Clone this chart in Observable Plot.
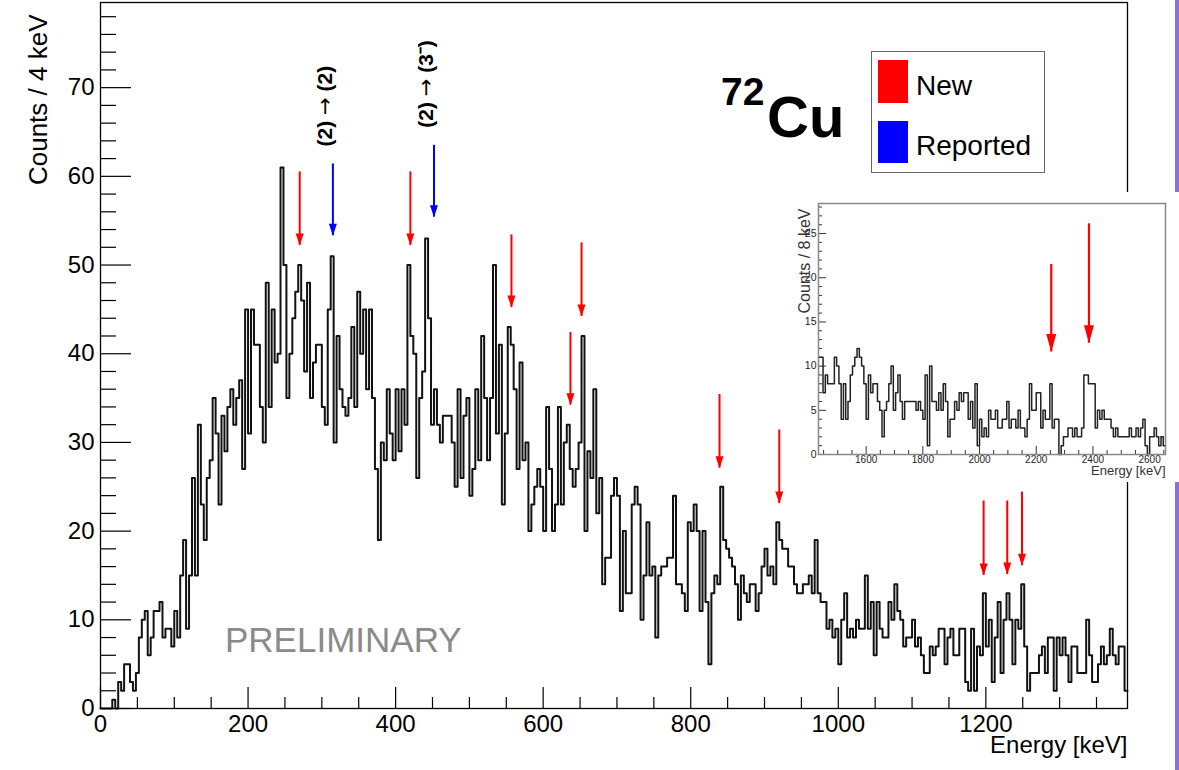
<!DOCTYPE html>
<html><head><meta charset="utf-8">
<script src="https://cdn.jsdelivr.net/npm/d3@7"></script>
<script src="https://cdn.jsdelivr.net/npm/@observablehq/plot@0.6"></script>
<style>
html,body{margin:0;padding:0;background:#fff;}
#wrap{position:relative;width:1179px;height:770px;overflow:hidden;font-family:"Liberation Sans",Arial,Helvetica,sans-serif;}
#main{position:absolute;left:0;top:0;}
#ov{position:absolute;left:0;top:0;}
#edge{position:absolute;left:1175px;top:0;width:4px;height:770px;background:#8a6fd8;}
#inset{position:absolute;left:785px;top:192px;width:394px;height:290px;background:#fff;}
</style></head><body>
<div id="wrap">
  <div id="main"></div>
  <svg id="ov" width="1179" height="770" font-family='"Liberation Sans", Arial, Helvetica, sans-serif'>
    <text x="721" y="105" font-size="39" font-weight="bold">72</text>
    <text x="767" y="137" font-size="58" font-weight="bold">Cu</text>
    <rect x="871.5" y="51.5" width="173" height="121" fill="#fff" stroke="#666" stroke-width="1"/>
    <rect x="878" y="60" width="30" height="43" fill="#ff0000"/>
    <rect x="878" y="121" width="30" height="42" fill="#0000ff"/>
    <text x="916" y="95" font-size="28">New</text>
    <text x="916" y="155" font-size="28">Reported</text>
    <text x="225" y="652" font-size="35" fill="#8a8a8a">PRELIMINARY</text>
  </svg>
  <div id="edge"></div>
  <div id="inset"></div>
</div>
<script>
// ---------------- data ----------------
const binWidth = 4; // keV per bin, main spectrum starts at 0 keV
const counts = [
  0,0,0,0,1,0,3,2,5,5,
  3,2,4,8,10,11,6,8,11,11,
  12,8,9,9,7,11,8,15,19,9,
  15,26,15,32,23,19,26,28,35,31,
  23,33,29,34,36,32,35,37,27,45,
  31,45,41,41,34,30,48,34,45,39,
  40,61,50,35,40,44,47,50,46,38,
  48,35,39,41,41,34,32,45,51,30,
  42,36,34,33,35,43,34,47,40,45,
  36,45,35,27,19,30,28,36,31,28,
  36,29,36,32,50,42,40,26,35,38,
  53,44,32,36,32,30,33,33,33,30,
  25,36,26,33,35,24,27,36,28,42,
  35,28,35,50,31,41,23,31,43,41,
  36,27,39,28,30,20,23,25,27,25,
  20,34,27,20,23,34,23,30,32,27,
  25,27,30,42,20,29,26,36,22,26,
  14,17,17,24,26,24,11,20,13,13,
  23,25,23,10,15,21,15,16,8,15,
  16,16,17,17,24,14,14,13,11,21,
  20,23,20,11,20,12,5,13,15,14,
  25,19,18,17,16,14,10,15,13,12,
  14,14,11,13,16,18,15,16,14,21,
  19,18,18,16,16,14,13,13,14,14,
  15,13,19,13,12,12,9,10,8,9,
  5,10,13,8,9,8,10,9,9,15,
  9,12,6,12,9,8,8,12,10,14,
  11,10,7,8,8,10,7,8,6,4,
  4,7,6,7,9,9,5,8,9,6,
  6,9,9,3,2,9,2,7,6,13,
  7,10,3,8,12,4,10,13,10,5,
  10,9,14,7,2,4,4,4,6,7,
  4,8,8,2,8,6,8,6,3,7,
  7,4,4,4,10,6,3,3,5,7,
  5,6,9,6,5,7,7,2
];
const insetStart = 1432;   // keV
const insetBinWidth = 8;   // keV per bin
const insetCounts = [
  11,11,7,9,8,8,8,11,10,8,
  4,8,4,6,9,10,11,12,11,10,
  8,4,9,7,8,8,6,5,2,5,
  6,8,10,5,7,9,6,4,6,6,
  6,6,6,5,6,5,4,9,1,10,
  6,6,5,7,5,8,6,2,4,4,
  6,5,7,6,7,7,4,6,3,8,
  1,4,2,3,2,5,4,4,5,3,
  3,4,4,6,3,4,4,3,5,3,
  3,2,4,8,5,5,7,7,3,5,
  4,4,8,3,4,4,0,1,2,2,
  3,3,2,3,2,2,3,9,9,8,
  8,8,3,5,4,5,4,4,4,3,
  2,3,2,2,2,2,2,3,2,2,
  3,2,3,4,1,0,2,2,3,2,
  1,2,1
];
// arrows: energy (keV), tail (counts), tip (counts)
const newEnergies   = [270, 420, 557, 637, 652, 839, 920, 1197, 1229, 1249];
const newTails      = [60.5, 60.5, 53.4, 42.4, 52.5, 35.4, 31.4, 23.4, 23.4, 24.4];
const newTips       = [52.2, 52.2, 45.2, 34.2, 44.2, 27.1, 23.1, 15.0, 15.1, 16.1];
const reportedEnergies = [315, 452];
const reportedTails    = [61.4, 63.5];
const reportedTips     = [53.3, 55.4];
const reportedLabels   = ["(2) \u2192 (2)", "(2) \u2192 (3\u207B)"];
const insetArrowEnergies = [2253, 2386];
const insetArrowTails    = [21.5, 26.1];
const insetArrowTips     = [11.6, 12.6];
// axes
const xMajor = [0, 200, 400, 600, 800, 1000, 1200];
const yMajor = [0, 10, 20, 30, 40, 50, 60, 70];
const insetXMajor = [1600, 1800, 2000, 2200, 2400, 2600];
const insetYMajor = [0, 5, 10, 15, 20, 25];
const xDomain = [0, 1392];
const yDomain = [0, 79.6];
const insetXDomain = [1432, 2656];
const insetYDomain = [0, 28.4];

// ---------------- build ----------------
const FONT = '"Liberation Sans", Arial, Helvetica, sans-serif';
const steps = (vals, x0, w) => {
  const pts = vals.map((c, i) => ({e: x0 + i * w, c}));
  pts.push({e: x0 + vals.length * w, c: vals[vals.length - 1]});
  return pts;
};
const head = (w, h) => ({draw(ctx) { ctx.moveTo(0, 0); ctx.lineTo(-w / 2, -h); ctx.lineTo(w / 2, -h); ctx.closePath(); }});
const arrows = (es, tails, tips, labels) => es.map((e, i) => ({e, top: tails[i], tip: tips[i], label: labels ? labels[i] : ""}));

const xMinor = d3.range(50, 1392, 50).filter(v => v % 200 !== 0);
const yMinor = d3.range(2, 79, 2).filter(v => v % 10 !== 0);
const ixMinor = d3.range(1450, 2656, 50).filter(v => v % 200 !== 0);
const iyMinor = d3.range(1, 29, 1).filter(v => v % 5 !== 0);

const W = 1179, H = 770, mL = 100, mR = 52, mT = 2, mB = 62;
const fw = W - mL - mR, fh = H - mT - mB;
const newA = arrows(newEnergies, newTails, newTips);
const repA = arrows(reportedEnergies, reportedTails, reportedTips, reportedLabels);

const main = Plot.plot({
  width: W, height: H,
  marginLeft: mL, marginRight: mR, marginTop: mT, marginBottom: mB,
  x: {domain: xDomain},
  y: {domain: yDomain},
  style: {fontFamily: FONT, background: "transparent", color: "#000"},
  marks: [
    Plot.tickX(xMinor, {x: d => d, insetTop: fh - 11, stroke: "#000", strokeWidth: 1.2}),
    Plot.tickX(xMajor, {x: d => d, insetTop: fh - 21, stroke: "#000", strokeWidth: 1.2}),
    Plot.tickY(yMinor, {y: d => d, insetRight: fw - 16, stroke: "#000", strokeWidth: 1.2}),
    Plot.tickY(yMajor, {y: d => d, insetRight: fw - 31, stroke: "#000", strokeWidth: 1.2}),
    Plot.axisX({ticks: xMajor, tickSize: 0, tickPadding: 6, fontSize: 24, tickFormat: d => String(d), label: null}),
    Plot.axisY({ticks: yMajor, tickSize: 0, tickPadding: 6, fontSize: 24, tickFormat: d => String(d), label: null}),
    Plot.line(steps(counts, 0, binWidth), {x: "e", y: "c", curve: "step-after", stroke: "#111", strokeWidth: 2}),
    Plot.ruleX(newA, {x: "e", y1: "top", y2: "tip", stroke: "#ff0000", strokeWidth: 2}),
    Plot.dot(newA, {x: "e", y: "tip", symbol: head(8, 12), fill: "#ff0000", stroke: "none", r: 4}),
    Plot.ruleX(repA, {x: "e", y1: "top", y2: "tip", stroke: "#0000ff", strokeWidth: 2}),
    Plot.dot(repA, {x: "e", y: "tip", symbol: head(8, 12), fill: "#0000ff", stroke: "none", r: 4}),
    Plot.text(repA, {x: "e", y: "top", text: "label", rotate: -90, textAnchor: "start", dy: -17.5, dx: -8, fontSize: 21, fontWeight: "bold", fill: "#000"}),
    Plot.text(["Energy [keV]"], {frameAnchor: "bottom-right", textAnchor: "end", dy: 44, fontSize: 24, fill: "#000"}),
    Plot.text(["Counts / 4 keV"], {frameAnchor: "top-left", rotate: -90, textAnchor: "end", dx: -72, dy: 12, fontSize: 26, fill: "#000"}),
    Plot.frame({stroke: "#000", strokeWidth: 1.3})
  ]
});
// thin, regular-weight arrow glyph inside the bold transition labels
main.querySelectorAll("text").forEach(t => {
  const s = t.textContent;
  if (s.includes("\u2192") && t.children.length === 0) {
    const parts = s.split("\u2192");
    t.textContent = "";
    const add = (str, arrow) => {
      const ts = document.createElementNS("http://www.w3.org/2000/svg", "tspan");
      ts.textContent = str;
      if (arrow) { ts.setAttribute("font-family", "DejaVu Sans"); ts.setAttribute("font-weight", "normal"); }
      t.appendChild(ts);
    };
    add(parts[0]); add("\u2192", true); add(parts[1]);
  }
});
document.getElementById("main").appendChild(main);

// inset
const iW = 394, iH = 290, imL = 33, imR = 14, imT = 11, imB = 28;
const ifw = iW - imL - imR, ifh = iH - imT - imB;
const insA = arrows(insetArrowEnergies, insetArrowTails, insetArrowTips);
const inset = Plot.plot({
  width: iW, height: iH,
  marginLeft: imL, marginRight: imR, marginTop: imT, marginBottom: imB,
  x: {domain: insetXDomain},
  y: {domain: insetYDomain},
  style: {fontFamily: FONT, background: "#fff", color: "#222"},
  marks: [
    Plot.tickX(ixMinor, {x: d => d, insetTop: ifh - 4, stroke: "#333"}),
    Plot.tickX(insetXMajor, {x: d => d, insetTop: ifh - 8, stroke: "#333"}),
    Plot.tickY(iyMinor, {y: d => d, insetRight: ifw - 4, stroke: "#333"}),
    Plot.tickY(insetYMajor, {y: d => d, insetRight: ifw - 8, stroke: "#333"}),
    Plot.axisX({ticks: insetXMajor, tickSize: 0, tickPadding: 1, fontSize: 10, tickFormat: d => String(d), label: null}),
    Plot.axisY({ticks: insetYMajor, tickSize: 0, tickPadding: 2, fontSize: 10.5, tickFormat: d => String(d), label: null}),
    Plot.line(steps(insetCounts, insetStart, insetBinWidth), {x: "e", y: "c", curve: "step-after", stroke: "#222", strokeWidth: 1.5}),
    Plot.ruleX(insA, {x: "e", y1: "top", y2: "tip", stroke: "#ff0000", strokeWidth: 2.2}),
    Plot.dot(insA, {x: "e", y: "tip", symbol: head(10, 18), fill: "#ff0000", stroke: "none", r: 4}),
    Plot.text(["Energy [keV]"], {frameAnchor: "bottom-right", textAnchor: "end", dy: 20.5, fontSize: 13, fill: "#333"}),
    Plot.text(["Counts / 8 keV"], {frameAnchor: "top-left", rotate: -90, textAnchor: "end", dx: -20, dy: 5, fontSize: 16, fill: "#333"}),
    Plot.frame({stroke: "#888", strokeWidth: 1.5})
  ]
});
document.getElementById("inset").appendChild(inset);
</script>
</body></html>
